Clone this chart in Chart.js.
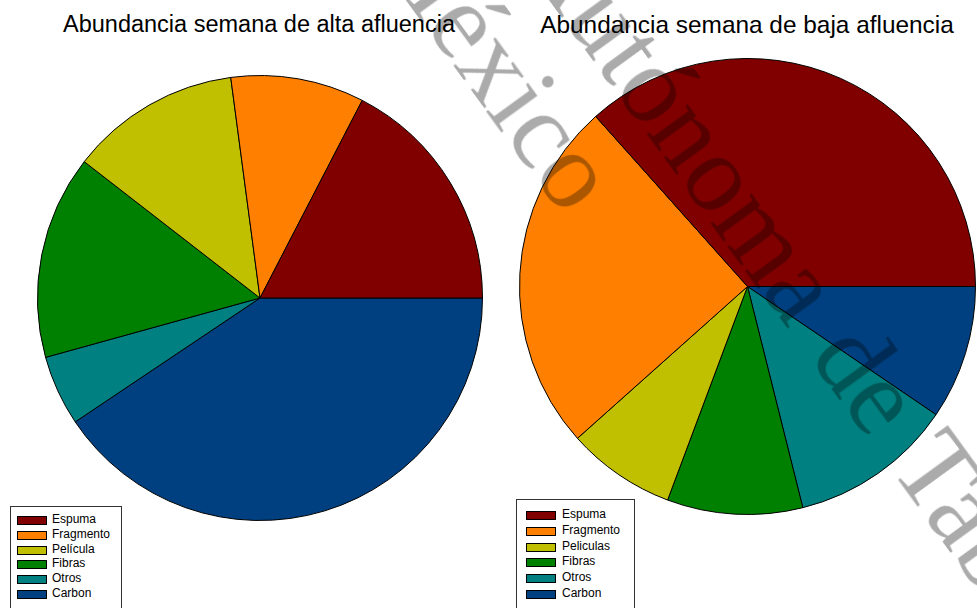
<!DOCTYPE html>
<html>
<head>
<meta charset="utf-8">
<script src="https://cdn.jsdelivr.net/npm/chart.js@4/dist/chart.umd.min.js"></script>
<style>
  body { margin: 0; background: #fff; width: 977px; height: 608px; overflow: hidden; position: relative; font-family: "Liberation Sans", Arial, sans-serif; }
  .titulo { position: absolute; top: 11px; font-size: 23.5px; color: #000; white-space: nowrap; transform: translateX(-50%); }
  .pie { position: absolute; }
  .leyenda { position: absolute; background: #fff; border: 1px solid #333; font-size: 12px; color: #000; }
  .fila { position: absolute; white-space: nowrap; line-height: 12px; }
  .cuadro { position: absolute; width: 28px; height: 7px; border: 1px solid #000; }
  .marca { position: absolute; font-family: "Liberation Serif", "Times New Roman", serif; font-size: 110px; line-height: 110px; color: rgba(0,0,0,0.33); white-space: nowrap; transform-origin: 0 0; transform: rotate(54deg); pointer-events: none; }
</style>
</head>
<body>
<div class="titulo" id="titulo-alta" style="left:259px;"></div>
<div class="titulo" id="titulo-baja" style="left:747px; font-size:24.4px;"></div>
<div class="pie" style="left:37px; top:75px; width:446px; height:446px;"><canvas id="chart-alta"></canvas></div>
<div class="pie" style="left:519px; top:58px; width:457px; height:457px;"><canvas id="chart-baja"></canvas></div>
<div class="leyenda" id="leyenda-alta" style="left:10px; top:506px; width:110px; height:110px;"></div>
<div class="leyenda" id="leyenda-baja" style="left:516px; top:499px; width:117px; height:120px;"></div>
<div class="marca" style="left:441px; top:-108px;">México</div>
<div class="marca" style="left:590px; top:-100px; word-spacing:6px;">Autónoma de Tabasco</div>
<script>
// porcentajes
const categoriasAlta = ["Espuma", "Fragmento", "Película", "Fibras", "Otros", "Carbon"];
const categoriasBaja = ["Espuma", "Fragmento", "Peliculas", "Fibras", "Otros", "Carbon"];
const valoresAlta = [17.4, 9.7, 12.4, 14.8, 5.1, 40.6];
const valoresBaja = [36.6, 25.0, 7.7, 9.6, 11.6, 9.5];
const colores = ["#800000", "#ff8000", "#c0c000", "#008000", "#008080", "#004080"];

document.getElementById("titulo-alta").textContent = "Abundancia semana de alta afluencia";
document.getElementById("titulo-baja").textContent = "Abundancia semana de baja afluencia";

function crearPie(id, labels, valores) {
    // el original va en sentido antihorario desde las 3, asi que se invierte el orden
    new Chart(document.getElementById(id), {
        type: "pie",
        data: {
            labels: labels.slice().reverse(),
            datasets: [
                {
                    data: valores.slice().reverse(),
                    backgroundColor: colores.slice().reverse(),
                    borderColor: "#000",
                    borderWidth: 1,
                    hoverOffset: 0,
                },
            ],
        },
        options: {
            responsive: true,
            maintainAspectRatio: false,
            animation: false,
            rotation: 90,
            layout: { padding: 0 },
            plugins: { legend: { display: false }, tooltip: { enabled: false } },
        },
    });
}

function crearLeyenda(id, labels, x0, y0, paso, tx) {
    const caja = document.getElementById(id);
    labels.forEach((txt, i) => {
        const c = document.createElement("div");
        c.className = "cuadro";
        c.style.left = x0 + "px";
        c.style.top = (y0 + i * paso - 4) + "px";
        c.style.background = colores[i];
        caja.appendChild(c);
        const f = document.createElement("div");
        f.className = "fila";
        f.style.left = tx + "px";
        f.style.top = (y0 + i * paso - 7) + "px";
        f.textContent = txt;
        caja.appendChild(f);
    });
}

crearPie("chart-alta", categoriasAlta, valoresAlta);
crearPie("chart-baja", categoriasBaja, valoresBaja);
crearLeyenda("leyenda-alta", categoriasAlta, 6, 13, 14.8, 41);
crearLeyenda("leyenda-baja", categoriasBaja, 9, 15, 15.8, 45);
</script>
</body>
</html>
